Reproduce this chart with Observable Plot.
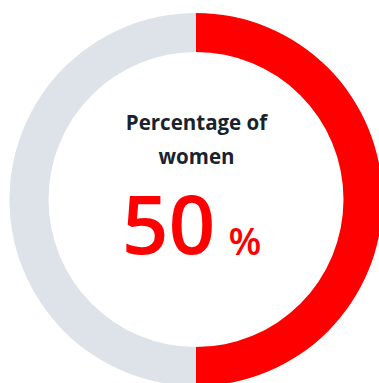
<!DOCTYPE html>
<html><head><meta charset="utf-8">
<script src="https://cdn.jsdelivr.net/npm/d3@7"></script>
<script src="https://cdn.jsdelivr.net/npm/@observablehq/plot@0.6"></script>
<style>html,body{margin:0;padding:0;background:#fff;overflow:hidden}</style>
</head><body><div id="chart"></div>
<script>
const categories = ["Women", "Men"];
const values = [50, 50];
const colors = ["#ff0000", "#dde3e9"];
const labelLines = ["Percentage of", "women"];
const bigValue = "50";
const unit = "%";

const W = 379, H = 383;
const cx = 196, cy = 199.5, rOuter = 186.5, rInner = 147.5;
const data = categories.map((c, i) => ({category: c, value: values[i], color: colors[i]}));

function donut(index, scales, vals, dims) {
  const pie = d3.pie().sort(null).value(d => d.value);
  const arc = d3.arc().innerRadius(rInner).outerRadius(rOuter);
  const g = d3.create("svg:g").attr("transform", `translate(${cx},${cy})`);
  g.selectAll("path").data(pie(data)).join("path")
    .attr("d", arc).attr("fill", d => scales.color(d.data.category));
  return g.node();
}

const chart = Plot.plot({
  width: W, height: H, margin: 0,
  x: {domain: [0, W], range: [0, W], axis: null},
  y: {domain: [0, H], range: [0, H], axis: null},
  color: {domain: categories, range: colors},
  style: {fontFamily: "'Open Sans', sans-serif", background: "#fff"},
  marks: [
    donut,
    Plot.text([labelLines[0]], {x: () => cx, y: () => 129, text: d => d, fontSize: 20.5, fontWeight: 700, fill: "#18232e", textAnchor: "middle", lineAnchor: "bottom"}),
    Plot.text([labelLines[1]], {x: () => cx, y: () => 163, text: d => d, fontSize: 20.5, fontWeight: 700, fill: "#18232e", textAnchor: "middle", lineAnchor: "bottom"}),
    Plot.text([bigValue], {x: () => 215, y: () => 253, text: d => d, fontSize: 82, fontWeight: 600, fill: "#ff0000", textAnchor: "end", lineAnchor: "bottom"}),
    Plot.text([unit], {x: () => 228, y: () => 254, text: d => d, fontSize: 38, fontWeight: 600, fill: "#ff0000", textAnchor: "start", lineAnchor: "bottom"})
  ]
});
document.getElementById("chart").appendChild(chart);
</script></body></html>
